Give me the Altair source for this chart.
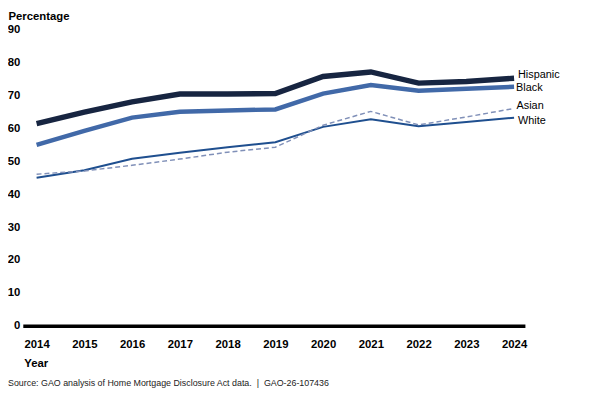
import altair as alt
import pandas as pd

years = [2014, 2015, 2016, 2017, 2018, 2019, 2020, 2021, 2022, 2023, 2024]
hispanic = [61.5, 65.0, 68.1, 70.5, 70.5, 70.6, 75.8, 77.2, 73.8, 74.3, 75.3]
black = [55.0, 59.3, 63.3, 65.1, 65.5, 65.8, 70.6, 73.2, 71.5, 72.1, 72.7]
white = [45.0, 47.3, 50.8, 52.6, 54.3, 55.8, 60.5, 62.8, 60.7, 62.0, 63.3]
asian = [46.1, 47.1, 48.8, 50.7, 52.8, 54.3, 61.0, 65.2, 61.1, 63.5, 66.1]

series = {"Hispanic": hispanic, "Black": black, "Asian": asian, "White": white}

rows = []
for name, vals in series.items():
    for y, v in zip(years, vals):
        rows.append({"year": y, "value": v, "group": name})
df = pd.DataFrame(rows)

FONT = "Liberation Sans, Arial, sans-serif"

x = alt.X("year:Q", scale=alt.Scale(domain=[2013.711, 2024.227], nice=False, zero=False),
          axis=alt.Axis(values=years, format="d", grid=False, ticks=False,
                        domainColor="black", domainWidth=3.5, labelFont=FONT,
                        labelFontSize=11.5, labelFontWeight="bold", labelColor="black",
                        labelPadding=13, labelFlush=False,
                        title="Year", titleFont=FONT, titleFontSize=11.5,
                        titleFontWeight="bold", titleColor="black", titleAngle=0,
                        titleAlign="left", titleAnchor="start", titleX=1, titleY=38,
                        titleBaseline="middle"))
y = alt.Y("value:Q", scale=alt.Scale(domain=[0, 90], nice=False),
          axis=alt.Axis(values=list(range(0, 91, 10)), grid=False, ticks=False,
                        domain=False, labelFont=FONT, labelFontSize=11.5,
                        labelFontWeight="bold", labelColor="black", labelPadding=3,
                        title="Percentage", titleFont=FONT, titleFontSize=11.5,
                        titleFontWeight="bold", titleColor="black", titleAngle=0,
                        titleAlign="left", titleBaseline="top", titleX=-15, titleY=-19.5))

styles = {
    "White": dict(color="#1f4f8f", strokeWidth=2.0),
    "Asian": dict(color="#8090b8", strokeWidth=1.5, strokeDash=[5, 3]),
    "Black": dict(color="#4169a8", strokeWidth=4.5),
    "Hispanic": dict(color="#172541", strokeWidth=5.5),
}
label_offsets = {
    "Hispanic": (4, -3),
    "Black": (2, 1.5),
    "Asian": (2.5, -2),
    "White": (4, 3.5),
}

base = alt.Chart(df)
layers = []
for name in ["White", "Asian", "Black", "Hispanic"]:
    st = styles[name]
    layers.append(
        base.transform_filter(alt.datum.group == name)
        .mark_line(strokeCap="butt", **st)
        .encode(x=x, y=y)
    )
for name in ["Hispanic", "Black", "Asian", "White"]:
    dx, dy = label_offsets[name]
    layers.append(
        base.transform_filter((alt.datum.group == name) & (alt.datum.year == 2024))
        .mark_text(align="left", baseline="middle", dx=dx, dy=dy, font=FONT,
                   fontSize=11, color="black")
        .encode(x=x, y=y, text="group:N")
    )

source_text = ["Source: GAO analysis of Home Mortgage Disclosure Act data.\u00a0\u00a0|\u00a0\u00a0GAO-26-107436"]
source = alt.Chart(pd.DataFrame({"t": source_text})).mark_text(
    align="left", baseline="middle", font=FONT, fontSize=9, color="#222222"
).encode(x=alt.value(-15), y=alt.value(358.5), text="t:N")
layers.append(source)

chart = alt.layer(*layers).properties(
    width=509, height=300,
    autosize=alt.AutoSizeParams(type="none"),
    padding={"left": 15, "top": 19.5, "right": 68, "bottom": 67},
).configure_view(stroke=None)

chart.save("out.html", embed_options={"renderer": "svg", "actions": False})
